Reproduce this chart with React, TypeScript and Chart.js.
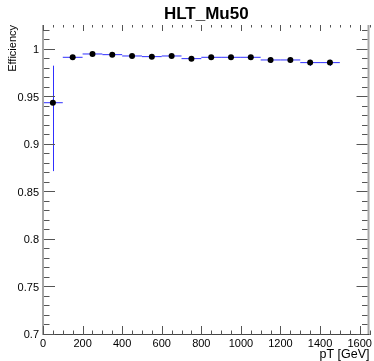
import { useEffect, useRef } from "react";
import { Chart, registerables } from "chart.js";

Chart.register(...registerables);

const FONT = "'Liberation Sans', Arial, Helvetica, sans-serif";

// Bin centres (GeV) and half widths
const binCenters = [50, 150, 250, 350, 450, 550, 650, 750, 850, 950, 1050, 1150, 1250, 1350, 1450];
const binHalfWidths = [50, 50, 50, 50, 50, 50, 50, 50, 50, 50, 50, 50, 50, 50, 50];
// Efficiency values and asymmetric errors
const efficiency = [0.9445, 0.9923, 0.9958, 0.9951, 0.9937, 0.993, 0.9937, 0.9909, 0.9923, 0.9923, 0.9923, 0.9895, 0.9895, 0.9867, 0.9867];
const errHigh = [0.039, 0.0015, 0.001, 0.001, 0.0015, 0.0015, 0.0015, 0.002, 0.002, 0.002, 0.002, 0.0025, 0.0025, 0.003, 0.003];
const errLow = [0.072, 0.002, 0.0015, 0.0015, 0.002, 0.002, 0.002, 0.0025, 0.0025, 0.0025, 0.0025, 0.003, 0.003, 0.0035, 0.0035];

// Axis tick labels
const xTickValues = [0, 200, 400, 600, 800, 1000, 1200, 1400, 1600];
const yTickValues = [0.7, 0.75, 0.8, 0.85, 0.9, 0.95, 1];

const rootPlugin = {
  id: "rootStyle",
  beforeDatasetsDraw(chart: any) {
    const { ctx, scales } = chart;
    const x = scales.x;
    const y = scales.y;
    ctx.save();
    ctx.strokeStyle = "#3030ff";
    ctx.lineWidth = 1;
    for (let i = 0; i < binCenters.length; i++) {
      const cx = Math.round(x.getPixelForValue(binCenters[i])) + 0.5;
      const cy = y.getPixelForValue(efficiency[i]);
      const xl = x.getPixelForValue(binCenters[i] - binHalfWidths[i]);
      const xr = x.getPixelForValue(binCenters[i] + binHalfWidths[i]);
      const yt = y.getPixelForValue(efficiency[i] + errHigh[i]);
      const yb = y.getPixelForValue(efficiency[i] - errLow[i]);
      ctx.beginPath();
      ctx.moveTo(xl, cy);
      ctx.lineTo(xr, cy);
      ctx.moveTo(cx, yt);
      ctx.lineTo(cx, yb);
      ctx.stroke();
    }
    ctx.restore();
  },
  afterDraw(chart: any) {
    const { ctx, chartArea: a, scales } = chart;
    const x = scales.x;
    const y = scales.y;
    ctx.save();
    // side frame lines
    ctx.strokeStyle = "#a6a6a6";
    ctx.lineWidth = 2;
    ctx.beginPath();
    ctx.moveTo(a.left, a.top);
    ctx.lineTo(a.left, a.bottom);
    ctx.moveTo(a.right - 1, a.top);
    ctx.lineTo(a.right - 1, a.bottom);
    ctx.stroke();
    // bottom line
    ctx.strokeStyle = "#444";
    ctx.lineWidth = 1;
    ctx.beginPath();
    ctx.moveTo(a.left, Math.round(a.bottom) - 0.5);
    ctx.lineTo(a.right, Math.round(a.bottom) - 0.5);
    ctx.stroke();
    // y ticks
    ctx.strokeStyle = "#555";
    ctx.beginPath();
    for (let k = 0; ; k++) {
      const v = y.min + k * 0.01;
      if (v > y.max + 1e-9) break;
      const py = Math.round(y.getPixelForValue(v)) - 0.5;
      const len = k % 5 === 0 ? 11 : 5.5;
      ctx.moveTo(a.left + 1, py);
      ctx.lineTo(a.left + 1 + len, py);
      ctx.moveTo(a.right - 2, py);
      ctx.lineTo(a.right - 2 - len, py);
    }
    // x ticks
    for (let k = 0; ; k++) {
      const v = x.min + k * 50;
      if (v > x.max + 1e-9) break;
      const px = Math.round(x.getPixelForValue(v)) + 0.5;
      const major = k % 4 === 0;
      ctx.moveTo(px, a.bottom);
      ctx.lineTo(px, a.bottom - (major ? 9 : 4.5));
      ctx.moveTo(px, a.top);
      ctx.lineTo(px, a.top + (major ? 6 : 2.5));
    }
    ctx.stroke();
    ctx.restore();
  },
};

function fmt(v: number) {
  return String(Number(v.toFixed(3)));
}

export default function App() {
  const ref = useRef<HTMLCanvasElement>(null);
  useEffect(() => {
    document.body.style.margin = "0";
    const canvas = ref.current!;
    const chart = new Chart(canvas, {
      type: "scatter",
      data: {
        datasets: [
          {
            data: binCenters.map((v, i) => ({ x: v, y: efficiency[i] })),
            pointRadius: 3,
            pointBackgroundColor: "#000",
            pointBorderColor: "#000",
            pointBorderWidth: 0,
            showLine: false,
          },
        ],
      },
      options: {
        responsive: false,
        animation: false,
        devicePixelRatio: 1,
        layout: { padding: { left: 0, right: 1.5, top: 0, bottom: 0 } },
        plugins: {
          legend: { display: false },
          tooltip: { enabled: false },
          title: {
            display: true,
            text: "HLT_Mu50",
            color: "#000",
            fullSize: false,
            font: { family: FONT, size: 17, weight: "bold", lineHeight: 1.2 },
            padding: { top: 4.6, bottom: 0 },
          },
        },
        scales: {
          x: {
            type: "linear",
            min: 0,
            max: 1650,
            grid: { display: false, drawTicks: false },
            border: { display: false },
            afterBuildTicks: (s: any) => {
              s.ticks = xTickValues.map((v) => ({ value: v }));
            },
            afterFit: (s: any) => {
              s.height = 26;
            },
            ticks: {
              autoSkip: false,
              maxRotation: 0,
              padding: 2,
              color: "#000",
              font: { family: FONT, size: 11 },
              callback: (v: any) => fmt(Number(v)),
            },
            title: {
              display: true,
              text: "pT [GeV]",
              align: "end",
              color: "#000",
              font: { family: FONT, size: 12.5, lineHeight: 1 },
              padding: { top: 0, bottom: 0 },
            },
          },
          y: {
            type: "linear",
            min: 0.7,
            max: 1.0263,
            grid: { display: false, drawTicks: false },
            border: { display: false },
            afterBuildTicks: (s: any) => {
              s.ticks = yTickValues.map((v) => ({ value: v }));
            },
            afterFit: (s: any) => {
              s.width = 43;
            },
            ticks: {
              autoSkip: false,
              padding: 4,
              color: "#000",
              font: { family: FONT, size: 11 },
              callback: (v: any) => fmt(Number(v)),
            },
            title: {
              display: true,
              text: "Efficiency",
              align: "end",
              color: "#000",
              font: { family: FONT, size: 11, lineHeight: 1.2 },
              padding: { top: 6, bottom: 0 },
            },
          },
        },
      },
      plugins: [rootPlugin],
    } as any);
    return () => chart.destroy();
  }, []);
  return <canvas ref={ref} width={374} height={361} style={{ display: "block" }} />;
}
